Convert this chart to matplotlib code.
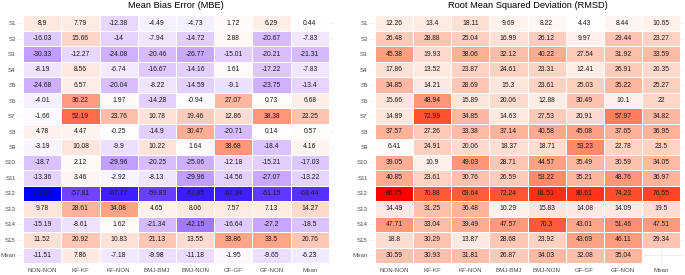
import numpy as np
import matplotlib
matplotlib.use("Agg")
import matplotlib.pyplot as plt
from matplotlib.colors import ListedColormap

plt.rcParams['font.family'] = ['Liberation Sans', 'DejaVu Sans']

rows = ["S1", "S2", "S3", "S4", "S5", "S6", "S7", "S8", "S9", "S10",
        "S11", "S12", "S13", "S14", "S15", "Mean"]
cols = ["NON-NON", "KF-KF", "KF-NON", "BMJ-BMJ", "BMJ-NON", "GF-GF", "GF-NON", "Mean"]

mbe = [
    [8.9, 7.79, -12.38, -4.49, -4.73, 1.72, 6.29, 0.44],
    [-16.03, 15.66, -14, -7.94, -14.72, 2.88, -20.67, -7.83],
    [-30.33, -12.27, -24.08, -20.46, -26.77, -15.01, -20.21, -21.31],
    [-8.19, 8.56, -6.74, -16.67, -14.16, 1.61, -17.22, -7.83],
    [-24.68, 6.57, -20.04, -8.22, -14.59, -9.1, -23.75, -13.4],
    [-4.01, 36.22, 1.97, -14.28, -0.94, 27.07, 0.73, 6.68],
    [-1.66, 52.19, 23.76, 10.78, 19.46, 12.86, 38.38, 22.25],
    [4.78, 4.47, -0.25, -14.9, 30.47, -20.71, 0.14, 0.57],
    [-3.19, 10.08, -9.9, 10.22, 1.64, 38.68, -18.4, 4.16],
    [-18.7, 2.12, -29.96, -20.25, -25.06, -12.18, -15.21, -17.03],
    [-13.36, 3.46, -2.92, -8.13, -29.96, -14.56, -27.07, -13.22],
    [-72.35, -57.81, -67.77, -59.83, -67.85, -67.34, -61.15, -63.44],
    [9.78, 28.61, 34.08, 4.65, 8.06, 7.57, 7.13, 14.27],
    [-15.19, -8.61, 1.62, -21.34, -42.15, -16.64, -27.2, -18.5],
    [11.52, 20.92, 10.83, 21.13, 13.55, 33.86, 33.5, 20.76],
    [-11.51, 7.86, -7.18, -9.98, -11.18, -1.95, -9.65, -6.23],
]

rmsd = [
    [12.26, 13.4, 18.11, 9.69, 8.22, 4.43, 8.44, 10.65],
    [26.48, 28.88, 25.04, 16.99, 26.12, 9.97, 29.44, 23.27],
    [45.38, 19.93, 38.06, 32.12, 40.22, 27.54, 31.92, 33.59],
    [17.86, 13.52, 23.87, 24.61, 23.31, 12.41, 26.91, 20.35],
    [34.85, 14.21, 28.69, 15.3, 23.61, 25.03, 35.22, 25.27],
    [15.66, 48.94, 15.89, 20.06, 12.88, 30.49, 10.1, 22],
    [14.89, 72.99, 34.85, 14.63, 27.53, 20.91, 57.97, 34.82],
    [37.57, 27.26, 33.38, 37.14, 40.58, 45.08, 37.65, 36.95],
    [6.41, 24.91, 20.06, 18.37, 18.71, 53.23, 22.78, 23.5],
    [39.05, 10.9, 49.03, 28.71, 44.57, 35.49, 30.59, 34.05],
    [40.85, 23.61, 30.76, 26.59, 53.22, 35.21, 48.76, 36.97],
    [86.75, 70.88, 69.64, 72.24, 81.51, 80.61, 74.23, 76.55],
    [14.49, 31.25, 36.48, 10.29, 15.83, 14.08, 14.09, 19.5],
    [47.71, 33.04, 39.49, 47.57, 70.3, 43.01, 51.46, 47.51],
    [18.8, 30.29, 13.87, 28.68, 23.92, 43.69, 46.11, 29.34],
    [30.59, 30.93, 31.81, 26.87, 34.03, 32.08, 35.04, np.nan],
]

# ---- Lab interpolation (ggplot-like gradients) ----
M = np.array([[0.4124564, 0.3575761, 0.1804375],
              [0.2126729, 0.7151522, 0.0721750],
              [0.0193339, 0.1191920, 0.9503041]])
Minv = np.linalg.inv(M)
WHITE = M @ np.ones(3)

def rgb2lab(rgb):
    c = np.asarray(rgb, float)
    lin = np.where(c <= 0.04045, c / 12.92, ((c + 0.055) / 1.055) ** 2.4)
    xyz = M @ lin / WHITE
    f = np.where(xyz > (6/29)**3, np.cbrt(xyz), xyz / (3*(6/29)**2) + 4/29)
    return np.array([116*f[1] - 16, 500*(f[0]-f[1]), 200*(f[1]-f[2])])

def lab2rgb(lab):
    L, a, b = lab
    fy = (L + 16) / 116
    fx = fy + a / 500
    fz = fy - b / 200
    f = np.array([fx, fy, fz])
    xyz = np.where(f > 6/29, f**3, 3*(6/29)**2*(f - 4/29)) * WHITE
    lin = Minv @ xyz
    lin = np.clip(lin, 0, 1)
    c = np.where(lin <= 0.0031308, 12.92*lin, 1.055*lin**(1/2.4) - 0.055)
    return np.clip(c, 0, 1)

def lab_cmap(colors, n=256):
    labs = [rgb2lab(c) for c in colors]
    out = []
    k = len(labs) - 1
    for t in np.linspace(0, 1, n):
        seg = min(int(t * k), k - 1)
        u = t * k - seg
        out.append(lab2rgb(labs[seg]*(1-u) + labs[seg+1]*u))
    return ListedColormap(out)

cmap_div = lab_cmap([(0, 0, 1), (1, 1, 1), (1, 0, 0)])
cmap_seq = lab_cmap([(1, 1, 1), (1, 0, 0)])

fig = plt.figure(figsize=(6.85, 2.75), dpi=100)
W, H = 685, 275

def make_ax(left_px, width_px):
    top = 13.95
    hh = 250.6
    return fig.add_axes([left_px / W, (H - top - hh) / H, width_px / W, hh / H])

def draw(ax, data, cmap, vmin, vmax, title):
    arr = np.ma.masked_invalid(np.array(data, float))
    nr, nc = arr.shape
    ax.set_xticks(range(nc))
    ax.set_yticks(range(nr))
    ax.grid(True, color="#EBEBEB", linewidth=0.6, zorder=0)
    ax.set_axisbelow(True)
    ax.pcolormesh(np.arange(nc + 1) - 0.5, np.arange(nr + 1) - 0.5, arr,
                  cmap=cmap, vmin=vmin, vmax=vmax, edgecolors="white",
                  linewidth=0.4, zorder=2)
    for i in range(nr):
        for j in range(nc):
            v = arr[i, j]
            if np.ma.is_masked(v):
                continue
            ax.text(j, i, f"{float(v):g}", ha="center", va="center",
                    fontsize=4.9, color="#1a1a1a", zorder=3)
    ax.set_xlim(-0.6, nc - 0.4)
    ax.set_ylim(nr - 0.4, -0.6)
    ax.set_xticklabels(cols, fontsize=4.4, color="#4D4D4D")
    ax.set_yticklabels(rows, fontsize=4.4, color="#4D4D4D")
    ax.tick_params(length=0, pad=2.5)
    for s in ax.spines.values():
        s.set_visible(False)
    ax.set_title(title, fontsize=6.7, pad=4.5, color="black")

ax1 = make_ax(19.2, 313.6)
lim = np.nanmax(np.abs(np.array(mbe, float)))
draw(ax1, mbe, cmap_div, -lim, lim, "Mean Bias Error (MBE)")

ax2 = make_ax(371.2, 312.6)
r = np.array(rmsd, float)
draw(ax2, rmsd, cmap_seq, np.nanmin(r), np.nanmax(r), "Root Mean Squared Deviation (RMSD)")

fig.savefig("out.png", dpi=100)
